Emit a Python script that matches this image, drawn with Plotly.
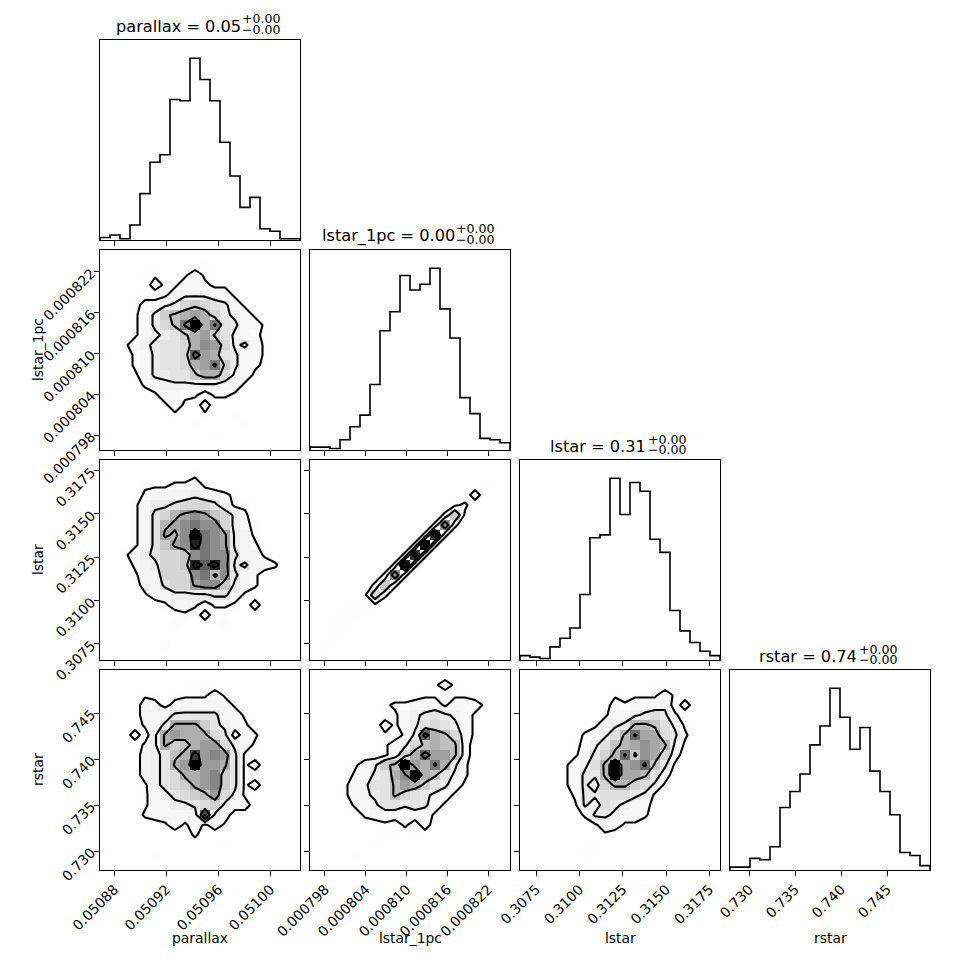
import numpy as np
import plotly.graph_objects as go

# ---------------- data ----------------
LABELS = ["parallax", "lstar_1pc", "lstar", "rstar"]
RANGES = [(0.0508690, 0.0510228), (0.0007958, 0.0008252),
          (0.306575, 0.318113), (0.727935, 0.749674)]
TICKVALS = [[0.05088, 0.05092, 0.05096, 0.05100],
            [0.000798, 0.000804, 0.000810, 0.000816, 0.000822],
            [0.3075, 0.3100, 0.3125, 0.3150, 0.3175],
            [0.730, 0.735, 0.740, 0.745]]
TICKTEXT = [["0.05088", "0.05092", "0.05096", "0.05100"],
            ["0.000798", "0.000804", "0.000810", "0.000816", "0.000822"],
            ["0.3075", "0.3100", "0.3125", "0.3150", "0.3175"],
            ["0.730", "0.735", "0.740", "0.745"]]
TITLE_MAIN = ["parallax = 0.05", "lstar_1pc = 0.00", "lstar = 0.31", "rstar = 0.74"]
TITLE_UP = ["+0.00", "+0.00", "+0.00", "+0.00"]
TITLE_DN = ["\u22120.00", "\u22120.00", "\u22120.00", "\u22120.00"]

# 1-D histogram counts (20 bins over the axis range)
HIST_PARALLAX = [2, 4, 1, 12, 37, 62, 68, 112, 111, 145, 128, 111, 78, 51, 26, 34, 9, 7, 1, 1]
HIST_LSTAR1PC = [2, 2, 1, 7, 16, 24, 45, 82, 95, 120, 110, 114, 125, 97, 77, 36, 25, 8, 7, 5]
HIST_LSTAR = [3, 2, 1, 9, 15, 22, 45, 84, 86, 125, 100, 122, 116, 83, 74, 34, 20, 12, 6, 3]
HIST_RSTAR = [2, 2, 8, 7, 16, 43, 54, 66, 86, 99, 125, 105, 83, 98, 68, 54, 38, 12, 10, 3]
HISTS = [HIST_PARALLAX, HIST_LSTAR1PC, HIST_LSTAR, HIST_RSTAR]

# 2-D histogram counts (20x20), rows listed from the top of the panel down
GRID_PARALLAX_LSTAR1PC = """
0 0 0 0 0 0 0 0 0 0 0 0 0 0 0 0 0 0 0 0
0 0 0 0 0 0 0 0 0 0 1 0 0 0 0 0 0 0 0 0
0 0 0 0 1 1 0 0 1 3 1 0 0 0 0 0 0 0 0 0
0 0 0 0 0 3 1 1 3 3 2 1 1 0 0 0 0 0 0 0
0 0 0 0 1 0 1 3 4 4 4 3 3 1 0 0 0 0 0 0
0 0 0 1 2 3 4 5 7 8 7 6 5 3 1 0 0 0 0 0
0 0 0 1 3 5 8 9 10 11 10 7 5 4 3 1 0 0 0 0
0 0 0 1 3 5 7 9 13 18 10 13 6 5 3 3 1 0 0 0
0 0 0 1 3 4 5 6 8 10 11 8 6 4 3 2 1 0 0 0
0 0 1 3 4 5 6 6 7 10 12 11 7 4 5 3 1 0 0 0
0 0 0 2 3 5 6 6 7 14 11 10 6 5 3 3 1 0 0 0
0 0 0 2 3 5 6 6 7 10 11 13 8 5 3 2 1 0 0 0
0 0 0 1 3 5 5 6 6 8 10 10 7 4 3 1 0 0 0 0
0 0 0 0 2 3 4 4 4 4 4 4 3 3 1 0 0 0 0 0
0 0 0 0 0 1 3 3 2 2 0 2 2 1 0 0 0 0 0 0
0 0 0 0 0 0 1 3 1 0 3 0 0 0 0 0 0 0 0 0
0 0 0 0 0 0 0 1 0 0 1 0 0 1 0 0 0 0 0 0
0 0 0 0 0 0 0 0 0 1 0 0 0 0 1 0 0 0 0 0
0 0 0 0 0 0 0 0 0 0 0 1 0 0 0 0 0 0 0 0
0 0 0 0 0 0 0 0 0 0 0 0 0 0 0 0 0 0 0 0
"""
GRID_PARALLAX_LSTAR = """
0 0 0 0 0 0 0 0 0 0 0 0 0 0 0 0 0 0 0 0
0 0 0 0 0 0 0 0 0 1 0 0 0 0 0 0 0 0 0 0
0 0 0 0 1 1 1 2 2 3 1 0 0 0 0 0 0 0 0 0
0 0 0 0 2 3 3 3 3 4 3 3 2 1 0 0 0 0 0 0
0 0 0 1 3 4 4 5 6 6 6 5 3 1 1 0 0 0 0 0
0 0 0 1 3 5 6 8 9 10 9 7 6 4 2 0 0 0 0 0
0 0 0 1 3 5 8 9 10 11 10 10 6 4 2 1 0 0 0 0
0 0 0 1 3 5 9 8 10 15 11 10 9 4 3 1 0 0 0 0
0 0 0 1 3 5 7 9 10 14 11 10 9 4 3 2 0 0 0 0
0 0 1 3 4 5 6 6 7 10 11 10 10 5 3 3 1 0 0 0
0 0 0 2 3 4 6 6 7 14 12 14 10 4 5 3 3 2 0 0
0 0 0 1 3 3 6 6 6 10 11 8 10 5 3 2 0 0 0 0
0 0 0 0 3 3 5 6 6 9 10 10 7 4 3 2 0 0 0 0
0 0 0 0 1 3 3 4 4 4 4 5 5 3 1 0 0 0 0 0
0 0 0 0 0 0 1 3 3 2 0 2 2 1 0 3 0 0 0 0
0 0 0 0 0 0 0 0 1 0 3 0 0 0 0 0 0 0 0 0
0 0 0 0 0 0 0 1 0 0 0 0 1 0 0 0 0 0 0 0
0 0 0 0 0 0 0 0 0 0 0 0 0 0 0 0 0 0 0 0
0 0 0 0 0 0 1 0 0 0 0 0 0 0 0 0 0 0 0 0
0 0 0 0 0 0 0 0 0 0 0 0 0 0 0 0 0 0 0 0
"""
GRID_LSTAR1PC_LSTAR = """
0 0 0 0 0 0 0 0 0 0 0 0 0 0 0 0 0 0 0 0
0 0 0 0 0 0 0 0 0 0 0 0 0 0 0 0 0 0 0 0
0 0 0 0 0 0 0 0 0 0 0 0 0 0 0 0 0 1 0 0
0 0 0 0 0 0 0 0 0 0 0 0 0 0 0 0 3 0 0 0
0 0 0 0 0 0 0 0 0 0 0 0 0 0 1 2 0 0 0 0
0 0 0 0 0 0 0 0 0 0 0 0 0 2 8 1 0 0 0 0
0 0 0 0 0 0 0 0 0 0 0 0 2 12 2 0 0 0 0 0
0 0 0 0 0 0 0 0 0 0 0 2 16 2 0 0 0 0 0 0
0 0 0 0 0 0 0 0 0 0 2 18 2 0 0 0 0 0 0 0
0 0 0 0 0 0 0 0 0 2 16 2 0 0 0 0 0 0 0 0
0 0 0 0 0 0 0 0 2 17 2 0 0 0 0 0 0 0 0 0
0 0 0 0 0 0 0 2 12 2 0 0 0 0 0 0 0 0 0 0
0 0 0 0 0 0 2 8 2 0 0 0 0 0 0 0 0 0 0 0
0 0 0 0 0 1 7 2 0 0 0 0 0 0 0 0 0 0 0 0
0 0 0 0 1 1 1 0 0 0 0 0 0 0 0 0 0 0 0 0
0 0 0 1 1 0 0 0 0 0 0 0 0 0 0 0 0 0 0 0
0 0 1 1 0 0 0 0 0 0 0 0 0 0 0 0 0 0 0 0
0 0 1 0 0 0 0 0 0 0 0 0 0 0 0 0 0 0 0 0
0 1 0 0 0 0 0 0 0 0 0 0 0 0 0 0 0 0 0 0
0 0 0 0 0 0 0 0 0 0 0 0 0 0 0 0 0 0 0 0
"""
GRID_PARALLAX_RSTAR = """
0 0 0 0 0 0 0 0 0 0 0 0 0 0 0 0 0 0 0 0
0 0 0 0 0 0 0 0 0 1 1 0 0 0 0 0 0 0 0 0
0 0 0 0 1 1 0 1 1 1 1 3 1 0 0 0 0 0 0 0
0 0 0 0 3 2 1 2 3 3 3 3 3 1 0 0 0 0 0 0
0 0 0 0 3 3 3 5 5 5 5 5 3 3 1 0 0 0 0 0
0 0 0 0 2 3 5 9 9 9 7 5 4 3 2 0 0 0 0 0
0 0 0 3 0 4 9 10 9 9 9 6 5 0 3 2 0 0 0 0
0 0 0 0 2 4 9 7 8 9 10 10 6 4 3 1 0 0 0 0
0 0 0 0 3 4 5 8 9 14 10 11 10 5 1 0 0 0 0 0
0 0 0 0 3 4 5 9 10 16 10 10 9 5 1 3 0 0 0 0
0 0 0 0 3 4 5 6 9 9 10 11 7 5 1 0 0 0 0 0
0 0 0 0 1 4 5 6 7 9 10 11 7 5 1 3 0 0 0 0
0 0 0 0 1 3 4 5 6 7 8 10 6 4 1 0 0 0 0 0
0 0 0 0 1 3 3 4 4 5 6 7 4 3 3 0 0 0 0 0
0 0 0 0 2 3 3 3 3 3 13 4 3 0 0 0 0 0 0 0
0 0 0 0 0 0 1 3 1 3 1 3 1 0 0 0 0 0 0 0
0 0 0 0 0 0 0 0 0 2 0 0 0 0 0 0 0 0 0 0
0 0 0 0 0 0 0 0 0 0 0 0 1 0 0 0 0 0 0 0
0 0 0 0 0 1 0 0 0 0 0 0 0 0 0 0 0 0 0 0
0 0 0 0 0 0 0 0 0 0 0 0 0 0 0 0 0 0 0 0
"""
GRID_LSTAR1PC_RSTAR = """
0 0 0 0 0 0 0 0 0 0 0 0 0 0 0 0 0 0 0 0
0 0 0 0 0 0 0 0 0 0 0 0 1 3 1 0 0 0 0 0
0 0 0 0 0 0 0 0 0 0 0 1 1 0 1 1 0 0 0 0
0 0 0 0 0 0 0 1 2 2 3 3 3 1 3 3 3 1 0 0
0 0 0 0 0 0 0 0 1 3 4 5 6 5 4 3 1 0 0 0
0 0 0 0 0 0 0 3 1 3 4 6 7 6 5 3 1 0 0 0
0 0 0 0 0 0 0 1 0 2 5 14 10 9 7 3 1 0 0 0
0 0 0 0 0 0 0 1 3 4 7 9 10 9 9 3 0 0 0 0
0 0 0 0 0 0 0 1 3 7 10 14 11 11 9 3 0 0 0 0
0 0 0 0 1 3 4 8 9 18 11 10 13 10 5 2 0 0 0 0
0 0 0 0 2 3 5 6 10 12 18 10 9 6 4 2 0 0 0 0
0 0 0 1 3 4 6 6 9 11 10 8 6 5 3 1 0 0 0 0
0 0 0 1 3 4 5 6 9 7 6 5 4 3 1 0 0 0 0 0
0 0 0 0 2 3 4 6 6 5 6 5 3 1 0 0 0 0 0 0
0 0 0 0 0 2 3 3 3 2 3 3 1 0 0 0 0 0 0 0
0 0 0 0 0 0 0 1 0 2 0 3 0 0 0 0 0 0 0 0
0 0 0 0 0 0 0 1 1 0 1 0 0 0 0 0 0 0 0 0
0 0 0 0 0 0 1 0 0 0 0 0 0 0 0 0 0 0 0 0
0 0 0 0 1 0 0 0 0 0 0 0 0 0 0 0 0 0 0 0
0 0 0 0 0 0 0 0 0 0 0 0 0 0 0 0 0 0 0 0
"""
GRID_LSTAR_RSTAR = """
0 0 0 0 0 0 0 0 0 0 0 0 0 0 0 0 0 0 0 0
0 0 0 0 0 0 0 0 0 0 0 0 0 1 0 1 0 0 0 0
0 0 0 0 0 0 0 0 0 1 0 1 1 1 3 1 0 0 0 0
0 0 0 0 0 0 0 0 0 3 2 3 3 3 4 0 3 0 0 0
0 0 0 0 0 0 0 0 1 3 3 4 5 6 5 2 0 0 0 0
0 0 0 0 0 0 0 1 3 4 5 9 9 8 6 4 1 0 0 0
0 0 0 0 0 0 2 3 4 6 9 13 10 10 6 5 2 0 0 0
0 0 0 0 0 1 2 4 6 8 9 10 11 10 9 4 1 0 0 0
0 0 0 0 0 1 3 5 7 9 13 8 11 10 7 3 0 0 0 0
0 0 0 0 1 3 4 6 9 17 10 11 13 8 5 1 0 0 0 0
0 0 0 0 1 3 5 5 9 17 10 10 9 6 3 0 0 0 0 0
0 0 0 0 1 3 5 3 7 9 9 7 6 4 1 0 0 0 0 0
0 0 0 0 0 2 5 5 6 6 6 5 4 1 0 0 0 0 0 0
0 0 0 0 0 1 5 3 6 5 4 3 3 0 0 0 0 0 0 0
0 0 0 0 0 0 2 5 5 4 3 3 2 0 0 0 0 0 0 0
0 0 0 0 0 0 0 1 3 3 1 1 0 0 0 0 0 0 0 0
0 0 0 0 0 0 0 0 1 0 0 0 0 0 0 0 0 0 0 0
0 0 0 0 0 0 0 1 0 0 0 0 0 0 0 0 0 0 0 0
0 0 0 0 0 0 1 0 0 0 0 0 0 0 0 0 0 0 0 0
0 0 0 0 0 0 0 0 0 0 0 0 0 0 0 0 0 0 0 0
"""
# (column variable, row variable) -> grid
GRIDS = {(0, 1): GRID_PARALLAX_LSTAR1PC, (0, 2): GRID_PARALLAX_LSTAR,
         (1, 2): GRID_LSTAR1PC_LSTAR, (0, 3): GRID_PARALLAX_RSTAR,
         (1, 3): GRID_LSTAR1PC_RSTAR, (2, 3): GRID_LSTAR_RSTAR}
# density levels (counts per cell) of the four contours
CONTOUR_LEVELS = [1.5, 4.5, 8.5, 12.5]

# ---------------- layout constants ----------------
W = H = 970
PAGE_OFFSET = 8          # the page body margin that shifts the figure
LEFT, TOP, SIZE, GAP = 100, 40, 200, 10
FONT = "DejaVu Sans"
TICKFONT = 13.9
TITLEFONT = 16.2
SCRIPTFONT = 12.6
K = 4


def px_x(p):
    return (p - PAGE_OFFSET) / W


def px_y(p):
    return 1 - (p - PAGE_OFFSET) / H


def parse(grid):
    rows = [[float(v) for v in line.split()] for line in grid.strip().splitlines()]
    return np.array(rows)[::-1]  # bottom row first


DJV = {'p': .635, 'a': .613, 'r': .411, 'l': .278, 'x': .592, 's': .521, 't': .392,
       '_': .5, 'c': .550, ' ': .318, '=': .838, '.': .318, '+': .838, '\u2212': .838}
for d in "0123456789":
    DJV[d] = .636


def text_w(s, size):
    return sum(DJV.get(ch, .6) for ch in s) * size


gray_scale = []
for t in np.linspace(0, 1, 21):
    g = int(round(255 * (1 - t * t)))
    gray_scale.append([float(t), f"rgb({g},{g},{g})"])

fig = go.Figure()
layout = dict(template="none", width=W, height=H, autosize=False,
              margin=dict(l=0, r=0, t=0, b=0, pad=0),
              paper_bgcolor="white", plot_bgcolor="white", showlegend=False,
              font=dict(family=FONT, color="black", size=TICKFONT))
annotations = []

ax_id = 0
for r in range(K):
    for c in range(r + 1):
        ax_id += 1
        xa = "x" if ax_id == 1 else f"x{ax_id}"
        ya = "y" if ax_id == 1 else f"y{ax_id}"
        x0 = LEFT + c * (SIZE + GAP)
        y0 = TOP + r * (SIZE + GAP)
        common = dict(showgrid=False, zeroline=False, showline=True, mirror=True,
                      automargin=False,
                      linecolor="black", linewidth=1.1, ticklen=4.9, tickwidth=1.1,
                      tickcolor="black", tickfont=dict(family=FONT, size=TICKFONT, color="black"))
        lo, hi = RANGES[c]
        xaxis = dict(common, domain=[px_x(x0), px_x(x0 + SIZE)], range=[lo, hi],
                     anchor=ya, ticks="outside", tickvals=TICKVALS[c],
                     ticktext=TICKTEXT[c], showticklabels=(r == K - 1), tickangle=-45)
        edges = np.linspace(lo, hi, 21)
        centers_x = 0.5 * (edges[1:] + edges[:-1])
        if r == c:
            counts = np.array(HISTS[c], dtype=float)
            yaxis = dict(common, domain=[px_y(y0 + SIZE), px_y(y0)],
                         range=[0, 1.1 * counts.max()], anchor=xa, ticks="",
                         showticklabels=False)
            xs = np.repeat(edges, 2)
            ys = np.concatenate([[0], np.repeat(counts, 2), [0]])
            fig.add_trace(go.Scatter(x=xs, y=ys, mode="lines", xaxis=xa, yaxis=ya,
                                     line=dict(color="black", width=1.6),
                                     hoverinfo="skip"))
            # title with stacked scripts
            main = TITLE_MAIN[c]
            mw = text_w(main, 16.7) * 0.955
            sw = 40.0
            xc = x0 + SIZE / 2
            xsplit = xc + (mw - sw) / 2
            annotations.append(dict(text=main, x=px_x(xsplit), y=px_y(y0 - 3.5),
                                    xref="paper", yref="paper", xanchor="right",
                                    yanchor="bottom", showarrow=False, borderpad=0,
                                    font=dict(family=FONT, size=TITLEFONT, color="black")))
            annotations.append(dict(text=TITLE_UP[c], x=px_x(xsplit - 0.5), y=px_y(y0 - 21),
                                    xref="paper", yref="paper", xanchor="left",
                                    yanchor="middle", showarrow=False, borderpad=0,
                                    font=dict(family=FONT, size=SCRIPTFONT, color="black")))
            annotations.append(dict(text=TITLE_DN[c], x=px_x(xsplit - 0.5), y=px_y(y0 - 10.5),
                                    xref="paper", yref="paper", xanchor="left",
                                    yanchor="middle", showarrow=False, borderpad=0,
                                    font=dict(family=FONT, size=SCRIPTFONT, color="black")))
        else:
            ylo, yhi = RANGES[r]
            yedges = np.linspace(ylo, yhi, 21)
            centers_y = 0.5 * (yedges[1:] + yedges[:-1])
            yaxis = dict(common, domain=[px_y(y0 + SIZE), px_y(y0)], range=[ylo, yhi],
                         anchor=xa, ticks="outside", tickvals=TICKVALS[r],
                         ticktext=TICKTEXT[r], showticklabels=(c == 0), tickangle=-45)
            z = parse(GRIDS[(c, r)])
            fig.add_trace(go.Heatmap(x=centers_x, y=centers_y, z=z, zmin=0, zmax=z.max(),
                                     colorscale=gray_scale, showscale=False,
                                     xaxis=xa, yaxis=ya, hoverinfo="skip"))
            for lev in CONTOUR_LEVELS:
                fig.add_trace(go.Contour(x=centers_x, y=centers_y, z=z, autocontour=False,
                                         contours=dict(start=lev, end=lev, size=1,
                                                       coloring="none"),
                                         line=dict(color="black", width=2.1, smoothing=0),
                                         showscale=False, xaxis=xa, yaxis=ya,
                                         hoverinfo="skip"))
        layout["xaxis" if ax_id == 1 else f"xaxis{ax_id}"] = xaxis
        layout["yaxis" if ax_id == 1 else f"yaxis{ax_id}"] = yaxis

# axis labels
for c in range(K):
    annotations.append(dict(text=LABELS[c], x=px_x(LEFT + c * (SIZE + GAP) + SIZE / 2),
                            y=px_y(928), xref="paper", yref="paper", xanchor="center",
                            yanchor="top", showarrow=False,
                            font=dict(family=FONT, size=TICKFONT, color="black")))
for r in range(1, K):
    annotations.append(dict(text=LABELS[r], x=px_x(38),
                            y=px_y(TOP + r * (SIZE + GAP) + SIZE / 2), xref="paper",
                            yref="paper", xanchor="center", yanchor="middle",
                            textangle=-90, showarrow=False,
                            font=dict(family=FONT, size=TICKFONT, color="black")))

layout["annotations"] = annotations
fig.update_layout(**layout)
fig.write_html("out.html")
